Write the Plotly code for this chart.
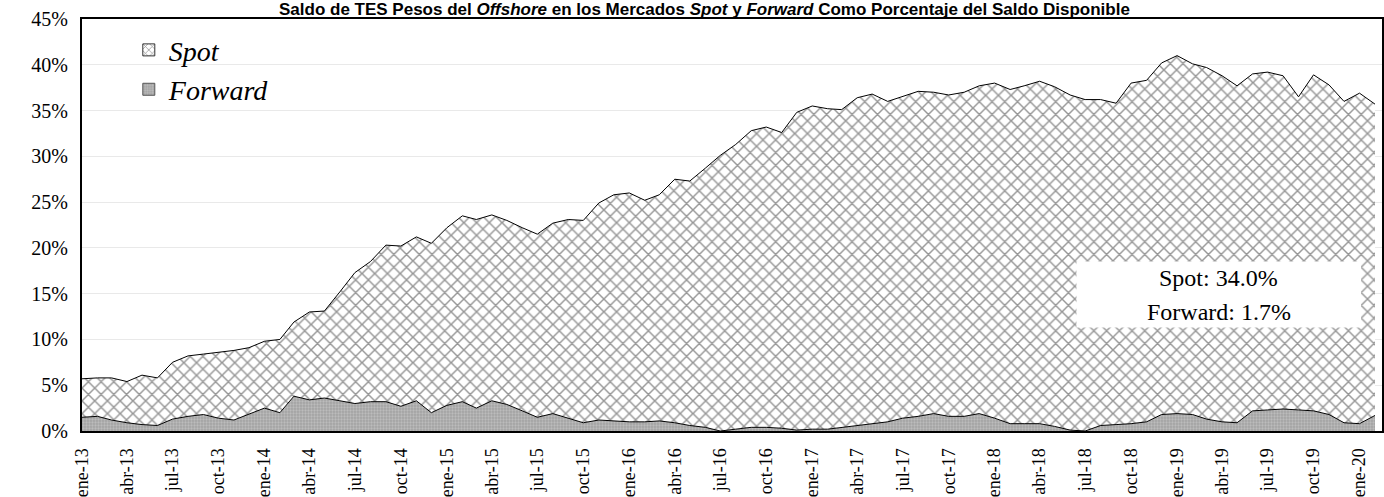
import pandas as pd
import plotly.graph_objects as go

# Monthly observations, Jan-2013 .. Feb-2020 (% of available TES Pesos stock)
dates = pd.date_range("2013-01-01", "2020-02-01", freq="MS")

forward = [
    1.5, 1.6, 1.2, 0.9, 0.7, 0.6, 1.3, 1.6, 1.8, 1.4, 1.2, 1.8,
    2.5, 2.0, 3.8, 3.4, 3.6, 3.3, 3.0, 3.2, 3.2, 2.7, 3.3, 2.0,
    2.8, 3.2, 2.5, 3.3, 2.9, 2.2, 1.5, 1.9, 1.4, 0.9, 1.2, 1.1,
    1.0, 1.0, 1.1, 0.9, 0.6, 0.4, 0.0, 0.2, 0.4, 0.4, 0.3, 0.1,
    0.2, 0.2, 0.4, 0.6, 0.8, 1.0, 1.4, 1.6, 1.9, 1.6, 1.6, 1.9,
    1.4, 0.8, 0.8, 0.8, 0.5, 0.1, 0.0, 0.6, 0.7, 0.8, 1.0, 1.8,
    1.9, 1.8, 1.3, 1.0, 0.9, 2.2, 2.3, 2.4, 2.3, 2.2, 1.8, 0.9,
    0.8, 1.7,
]

spot = [
    4.2, 4.2, 4.6, 4.5, 5.4, 5.2, 6.2, 6.6, 6.6, 7.2, 7.6, 7.3,
    7.3, 8.0, 8.1, 9.6, 9.5, 11.9, 14.3, 15.3, 17.1, 17.5, 17.9, 18.5,
    19.4, 20.3, 20.6, 20.3, 20.1, 20.0, 20.0, 20.8, 21.7, 22.1, 23.7, 24.7,
    25.0, 24.2, 24.7, 26.6, 26.7, 28.3, 30.1, 31.1, 32.4, 32.8, 32.3, 34.7,
    35.3, 35.0, 34.7, 35.8, 36.0, 35.0, 35.1, 35.5, 35.1, 35.1, 35.4, 35.8,
    36.6, 36.5, 36.9, 37.4, 37.1, 36.6, 36.2, 35.6, 35.1, 37.2, 37.3, 38.4,
    39.1, 38.3, 38.4, 37.8, 36.8, 36.8, 36.9, 36.4, 34.2, 36.7, 36.0, 35.1,
    36.1, 34.0,
]

tick_dates = pd.date_range("2013-01-01", "2020-01-01", freq="QS")
month_abbr = {1: "ene", 4: "abr", 7: "jul", 10: "oct"}
tick_labels = [f"{month_abbr[d.month]}-{d.strftime('%y')}" for d in tick_dates]

last_spot = spot[-1]
last_forward = forward[-1]

serif = "Liberation Serif, Times New Roman, serif"

spot_pattern = dict(shape="x", fgcolor="#303030", bgcolor="white", size=9, solidity=0.3)
fwd_pattern = dict(shape=".", fgcolor="#d6d6d6", bgcolor="#a2a2a2", size=3, solidity=0.45)

fig = go.Figure()

# Stacked areas: Forward at the bottom, Spot on top of it
fig.add_trace(go.Scatter(
    x=dates, y=forward, name="Forward", mode="lines",
    stackgroup="one", showlegend=False,
    line=dict(color="black", width=1),
    fillcolor="#a2a2a2", fillpattern=fwd_pattern,
))
fig.add_trace(go.Scatter(
    x=dates, y=spot, name="Spot", mode="lines",
    stackgroup="one", showlegend=False,
    line=dict(color="black", width=1),
    fillcolor="white", fillpattern=spot_pattern,
))

# Legend entries with square swatches
fig.add_trace(go.Bar(
    x=[None], y=[None], name="<i>Spot</i>", legendrank=1, legendgroup="s",
    marker=dict(color="white", pattern=dict(shape="x", fgcolor="#303030",
                                              bgcolor="white", size=6, solidity=0.3),
                line=dict(color="#333333", width=1)),
))
fig.add_trace(go.Bar(
    x=[None], y=[None], name="<i>Forward</i>", legendrank=2, legendgroup="f",
    marker=dict(color="#a2a2a2", pattern=fwd_pattern,
                line=dict(color="#555555", width=1)),
))

# Box with the latest readings
fig.add_shape(type="rect", xref="paper", yref="y",
              x0=0.765, x1=0.984, y0=11.3, y1=18.5,
              fillcolor="white", line=dict(width=0), layer="above")
fig.add_annotation(xref="paper", yref="y", x=0.8745, y=16.7, xanchor="center",
                   text=f"Spot: {last_spot:.1f}%", showarrow=False,
                   font=dict(family=serif, size=24, color="black"))
fig.add_annotation(xref="paper", yref="y", x=0.8745, y=13.0, xanchor="center",
                   text=f"Forward: {last_forward:.1f}%", showarrow=False,
                   font=dict(family=serif, size=24, color="black"))

fig.update_layout(
    width=1384, height=497,
    margin=dict(l=82, r=0, t=19, b=65),
    paper_bgcolor="white", plot_bgcolor="white",
    title=dict(
        text="Saldo de TES Pesos del <i>Offshore</i> en los Mercados <i>Spot</i> y "
             "<i>Forward</i> Como Porcentaje del Saldo Disponible",
        font=dict(family="Liberation Sans, Arial, sans-serif", size=17, color="black",
                  weight="bold"),
        x=0.509, xref="container", xanchor="center",
        y=0.981, yref="container", yanchor="middle",
        pad=dict(t=0, b=0),
    ),
    showlegend=True,
    legend=dict(
        x=0.036, y=0.985, xanchor="left", yanchor="top",
        traceorder="normal", tracegroupgap=4,
        bgcolor="rgba(0,0,0,0)",
        font=dict(family=serif, size=28, color="black"),
        itemwidth=30,
    ),
    xaxis=dict(
        range=["2013-01-01", "2020-02-15"],
        tickmode="array", tickvals=tick_dates, ticktext=tick_labels,
        tickangle=-90, ticks="", ticklabelstandoff=8,
        tickfont=dict(family=serif, size=18, color="black"),
        showgrid=False, showline=True, linecolor="black", linewidth=2,
        mirror=True, zeroline=False,
    ),
    yaxis=dict(
        range=[0, 45], dtick=5, ticksuffix="%",
        tickfont=dict(family=serif, size=20, color="black"),
        showgrid=True, gridcolor="#e9e9e9", gridwidth=1,
        showline=True, linecolor="black", linewidth=2, mirror=True,
        zeroline=False, ticks="", ticklabelstandoff=8,
    ),
)

fig.write_html("out.html")
